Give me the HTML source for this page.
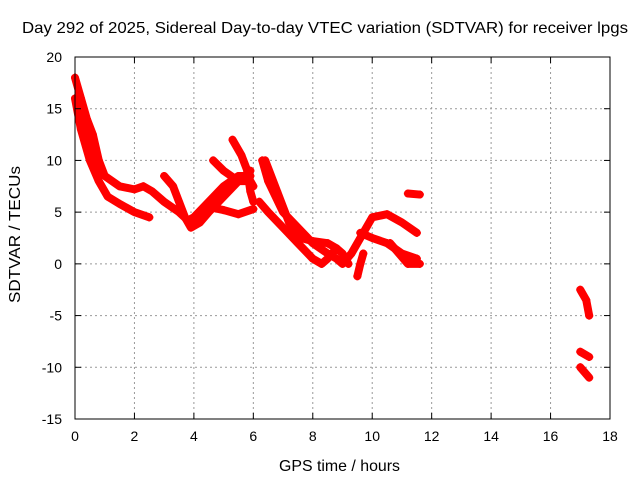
<!DOCTYPE html>
<html><head><meta charset="utf-8"><style>
body{margin:0;background:#fff;}
svg{display:block;font-family:"Liberation Sans",sans-serif;}
</style></head><body>
<svg id="chart" width="640" height="480">
<text x="22" y="33" font-size="16" textLength="606" lengthAdjust="spacingAndGlyphs">Day 292 of 2025, Sidereal Day-to-day VTEC variation (SDTVAR) for receiver lpgs</text>
<text x="279" y="471" font-size="16" textLength="121" lengthAdjust="spacingAndGlyphs">GPS time / hours</text>
<text transform="translate(20,303) rotate(-90)" font-size="16" textLength="137" lengthAdjust="spacingAndGlyphs">SDTVAR / TECUs</text>
<g id="grid"></g><g id="marks"></g>
<rect x="75" y="57" width="535" height="362" fill="none" stroke="#000" stroke-width="1"/>
<g id="ticks"></g>
</svg>
<script>
const xTicks=[0,2,4,6,8,10,12,14,16,18];
const yTicks=[-15,-10,-5,0,5,10,15,20];
const trackA=[[0,18],[0.2,16],[0.4,14],[0.6,12.5],[0.8,10],[1.0,8.5],[1.5,7.5],[2.0,7.2],[2.3,7.5],[2.6,7],[3.0,6],[3.5,5],[3.8,4.2],[4.0,4.5],[4.5,6],[5.0,7.5],[5.5,8.5],[5.9,8.5]];
const trackB=[[0,16],[0.2,13],[0.5,10],[0.8,8],[1.1,6.5],[1.5,5.8],[2.0,5],[2.5,4.5]];
const trackC=[[0.1,15],[0.3,13],[0.5,11],[0.7,9]];
const trackD=[[3.0,8.5],[3.3,7.5],[3.5,6],[3.7,4.5],[3.9,3.5],[4.2,4],[4.5,5],[5,6.5],[5.5,8],[5.9,9]];
const trackE=[[4.65,10],[5.0,9],[5.5,8],[5.9,8],[6.0,7.5]];
const trackF=[[5.3,12],[5.6,10.5],[5.8,9],[5.9,7],[6.0,6]];
const trackG=[[4.5,5.5],[5,5.2],[5.5,4.8],[6,5.3]];
const trackH=[[6.3,10],[6.5,8],[7,5],[7.5,3.5],[8,2],[8.5,1],[8.8,0.5],[9.0,0],[9.3,1],[9.6,2.5],[10,4.5],[10.5,4.8],[11,4],[11.5,3]];
const trackI=[[6.2,6],[6.5,5],[7,3.5],[7.5,2],[8,0.5],[8.3,0],[8.5,0.5],[8.8,1.5],[9.0,1],[9.2,0]];
const trackJ=[[6.4,10],[6.8,7],[7.2,4],[7.6,2.5],[8,2.2],[8.5,2],[8.8,1.5]];
const trackK=[[9.6,3],[10,2.5],[10.5,2],[11,1],[11.5,0.5]];
const trackL=[[10.6,2],[10.9,1],[11.2,0],[11.6,0]];
const trackM=[[9.5,-1.2],[9.6,0],[9.7,1]];
const trackN=[[11.2,6.8],[11.6,6.7]];
const trackO=[[17,-2.5],[17.2,-3.5],[17.3,-5]];
const trackP=[[17,-8.5],[17.3,-9]];
const trackQ=[[17,-10],[17.3,-11]];
const tracks=[trackA,trackB,trackC,trackD,trackE,trackF,trackG,trackH,trackI,trackJ,trackK,trackL,trackM,trackN,trackO,trackP,trackQ];
const NS='http://www.w3.org/2000/svg';
const X=h=>75+h*535/18;
const Y=v=>57+(20-v)*362/35;
const grid=document.getElementById('grid'),ticks=document.getElementById('ticks'),marks=document.getElementById('marks');
function mk(tag,attrs,parent){const e=document.createElementNS(NS,tag);for(const k in attrs)e.setAttribute(k,attrs[k]);parent.appendChild(e);return e;}
xTicks.forEach(t=>{
  const x=X(t);
  if(t>0&&t<18){const g=mk('line',{x1:x,x2:x,y1:57,y2:419,stroke:'#999','stroke-dasharray':'2,3'},grid);
  
  }
  mk('line',{x1:x,x2:x,y1:419,y2:413,stroke:'#000'},ticks);
  mk('line',{x1:x,x2:x,y1:57,y2:63,stroke:'#000'},ticks);
  const l=mk('text',{x:x,y:441,'text-anchor':'middle','font-size':'14'},ticks);l.textContent=t;
  
  
});
yTicks.forEach(t=>{
  const y=Y(t);
  if(t>-15&&t<20){const g=mk('line',{x1:75,x2:610,y1:y,y2:y,stroke:'#999','stroke-dasharray':'2,3'},grid);
  
  }
  mk('line',{x1:75,x2:81,y1:y,y2:y,stroke:'#000'},ticks);
  mk('line',{x1:604,x2:610,y1:y,y2:y,stroke:'#000'},ticks);
  const l=mk('text',{x:62,y:y+5,'text-anchor':'end','font-size':'14'},ticks);l.textContent=t;
  
  
});
tracks.forEach(tr=>{
  const p=mk('polyline',{points:tr.map(d=>X(d[0])+','+Y(d[1])).join(' '),fill:'none',stroke:'#ff0000','stroke-width':'8','stroke-linecap':'round','stroke-linejoin':'round'},marks);
  
  
  tr.forEach(d=>{
    const c=mk('path',{d:`M${X(d[0])-4},${Y(d[1])}h8M${X(d[0])},${Y(d[1])-4}v8`,stroke:'#ff0000','stroke-width':'2'},marks);
    
    
  });
});
</script>
</body></html>
